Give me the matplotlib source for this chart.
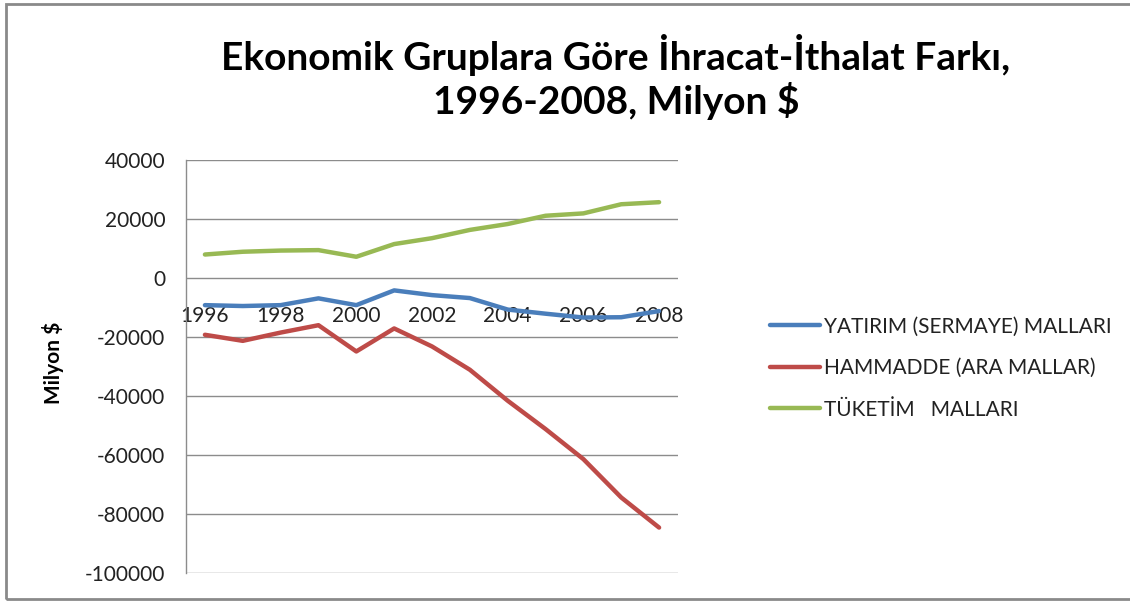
import matplotlib
matplotlib.use("Agg")
import matplotlib.pyplot as plt
from matplotlib.patches import Rectangle

years = [1996, 1997, 1998, 1999, 2000, 2001, 2002, 2003, 2004, 2005, 2006, 2007, 2008]
yatirim = [-9200, -9500, -9200, -6900, -9200, -4200, -5800, -6800, -10700, -12100, -13400, -13300, -11200]
hammadde = [-19250, -21300, -18500, -16000, -24900, -17100, -23200, -31100, -41600, -51200, -61400, -74400, -84600]
tuketim = [7960, 8900, 9300, 9450, 7200, 11500, 13500, 16300, 18300, 21100, 21900, 25000, 25700]
series_names = ["YATIRIM (SERMAYE) MALLARI", "HAMMADDE (ARA MALLAR)", "TÜKETİM   MALLARI"]
colors = ["#4A7EBB", "#BE4B48", "#98B954"]
yticks = [40000, 20000, 0, -20000, -40000, -60000, -80000, -100000]
xtick_labels = ["1996", "1998", "2000", "2002", "2004", "2006", "2008"]

FONT = ["Lato", "DejaVu Sans"]
plt.rcParams['font.family'] = FONT

W, H = 1130, 601
fig = plt.figure(figsize=(W / 100, H / 100), dpi=100)

# chart border
fig.patches.append(Rectangle((6 / W, 1 - 599 / H), 1.2, (599 - 4) / H,
                             transform=fig.transFigure, fill=False,
                             edgecolor="#8a8a8a", linewidth=2))

ax = fig.add_axes([186 / W, 1 - 573 / H, (678 - 186) / W, (573 - 160) / H])
x = list(range(len(years)))
for vals, name, c in zip([yatirim, hammadde, tuketim], series_names, colors):
    ax.plot(x, vals, color=c, linewidth=3.2, label=name, solid_joinstyle="round",
            solid_capstyle="round", zorder=3)

ax.spines["bottom"].set_position(("data", 0))
ax.spines["bottom"].set_visible(False)
for s in ["top", "right"]:
    ax.spines[s].set_visible(False)
ax.spines["left"].set_color("#8c8c8c")
ax.spines["left"].set_linewidth(1)

ax.set_xlim(-0.5, len(years) - 0.5)
ax.set_ylim(-100000, 40000)
ax.set_yticks(yticks)
ax.set_yticklabels([str(v) for v in yticks])
ax.grid(axis="y", color="#8c8c8c", linewidth=1)
ax.set_axisbelow(True)
ax.tick_params(axis="y", length=0, pad=15, labelsize=15, labelcolor="#222222")

xt = [years.index(int(l)) for l in xtick_labels]
ax.set_xticks(xt)
ax.set_xticklabels(xtick_labels)
ax.tick_params(axis="x", length=0, pad=20, labelsize=15, labelcolor="#222222")

ax.set_ylabel("Milyon $", fontsize=15, fontweight="bold", va="center")
ax.yaxis.set_label_coords((53 - 186) / 492, (573 - 363) / 413)

fig.text(616 / W, 1 - 55 / H, "Ekonomik Gruplara Göre İhracat-İthalat Farkı,",
         ha="center", va="center", fontsize=28, fontweight="bold")
fig.text(616 / W, 1 - 101 / H, "1996-2008, Milyon $",
         ha="center", va="center", fontsize=28, fontweight="bold")

leg = fig.legend(loc="upper left", bbox_to_anchor=(751 / W, 1 - 298 / H),
                 frameon=False, fontsize=15, handlelength=2.4,
                 handletextpad=0.2, labelspacing=1.03)
for t in leg.get_texts():
    t.set_color("#222222")

fig.savefig("out.png", dpi=100)
